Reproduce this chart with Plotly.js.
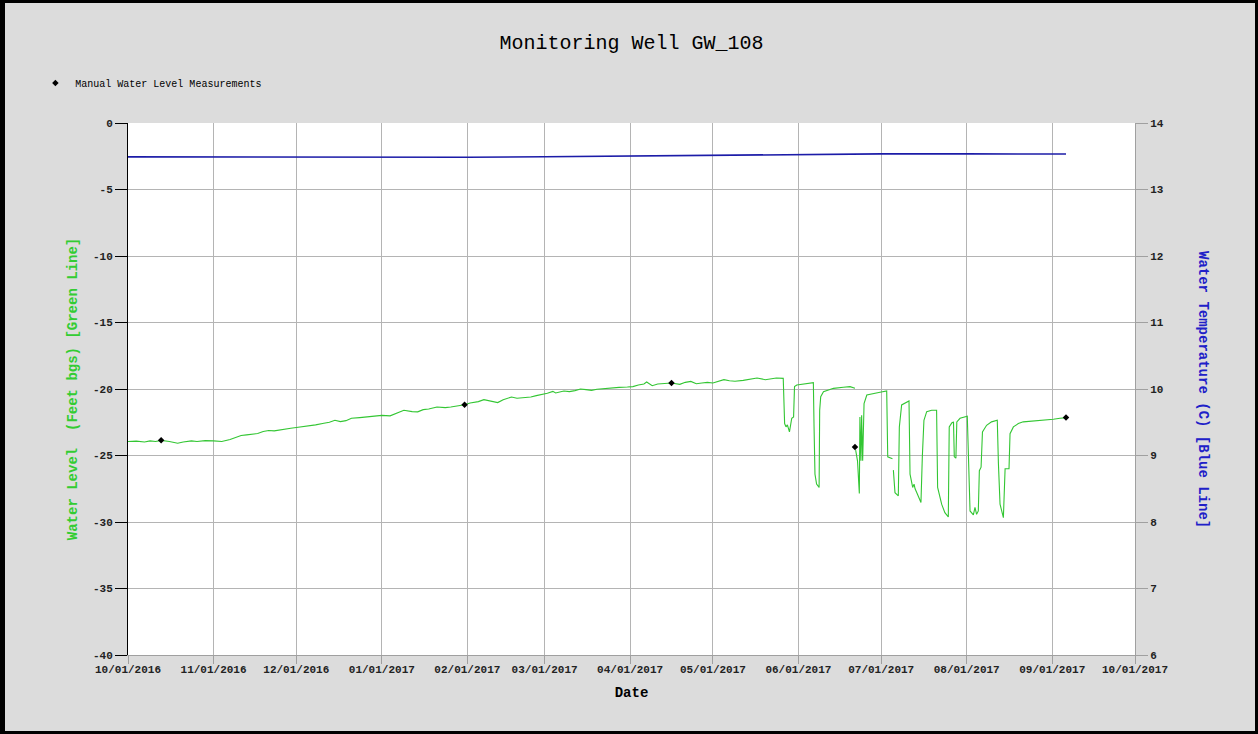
<!DOCTYPE html>
<html>
<head>
<meta charset="utf-8">
<script src="https://cdn.plot.ly/plotly-3.0.1.min.js"></script>
<style>
  html, body { margin: 0; padding: 0; background: #dcdcdc; }
  #wrap { position: relative; width: 1258px; height: 734px; }
  #chart { width: 1258px; height: 734px; }
  #frame { position: absolute; left: 0; top: 0; width: 1258px; height: 734px; box-sizing: border-box;
           border-style: solid; border-color: #000; border-width: 3px 3px 3px 5px; pointer-events: none; }
</style>
</head>
<body>
<div id="wrap"><div id="chart"></div><div id="frame"></div></div>
<script>
// ---- Water level (feet bgs), green line: gradual recovery Oct 2016 - May 2017 ----
const levelDatesA = [
  "2016-10-01","2016-10-04","2016-10-07","2016-10-09","2016-10-11","2016-10-13","2016-10-16","2016-10-18","2016-10-19","2016-10-21",
  "2016-10-24","2016-10-26","2016-10-29","2016-11-01","2016-11-04","2016-11-07","2016-11-09","2016-11-11","2016-11-13","2016-11-15",
  "2016-11-17","2016-11-19","2016-11-21","2016-11-23","2016-11-25","2016-11-27","2016-11-29","2016-12-01","2016-12-04","2016-12-06",
  "2016-12-08","2016-12-11","2016-12-13","2016-12-15","2016-12-17","2016-12-19","2016-12-21","2016-12-24","2016-12-26","2016-12-28",
  "2016-12-30","2017-01-01","2017-01-04","2017-01-07","2017-01-09","2017-01-12","2017-01-14","2017-01-16","2017-01-18","2017-01-21",
  "2017-01-24","2017-01-26","2017-01-28","2017-01-31","2017-02-02","2017-02-05","2017-02-07","2017-02-10","2017-02-12","2017-02-14",
  "2017-02-17","2017-02-19","2017-02-21","2017-02-24","2017-02-26","2017-02-28","2017-03-02","2017-03-04","2017-03-05","2017-03-08",
  "2017-03-10","2017-03-12","2017-03-14","2017-03-16","2017-03-18","2017-03-20","2017-03-23","2017-03-25","2017-03-28","2017-03-31",
  "2017-04-02","2017-04-04","2017-04-06","2017-04-07","2017-04-09","2017-04-11","2017-04-14","2017-04-16","2017-04-19","2017-04-21",
  "2017-04-23","2017-04-25","2017-04-27","2017-04-29","2017-05-01","2017-05-03","2017-05-05","2017-05-07","2017-05-09","2017-05-12",
  "2017-05-14","2017-05-17","2017-05-20","2017-05-22","2017-05-24"
];
const levelValuesA = [
  -23.95,-23.92,-23.98,-23.90,-23.95,-23.86,-23.95,-24.02,-24.08,-23.98,
  -23.90,-23.95,-23.88,-23.90,-23.95,-23.80,-23.65,-23.50,-23.45,-23.40,
  -23.35,-23.20,-23.12,-23.15,-23.08,-22.98,-22.95,-22.90,-22.82,-22.78,
  -22.70,-22.58,-22.50,-22.35,-22.45,-22.38,-22.20,-22.15,-22.10,-22.05,
  -22.00,-21.98,-22.02,-21.80,-21.60,-21.70,-21.72,-21.55,-21.50,-21.35,
  -21.40,-21.35,-21.30,-21.18,-21.05,-20.95,-20.80,-20.95,-21.02,-20.80,
  -20.60,-20.70,-20.68,-20.60,-20.50,-20.43,-20.32,-20.18,-20.30,-20.15,
  -20.20,-20.12,-20.00,-20.05,-20.10,-20.02,-19.95,-19.92,-19.88,-19.85,
  -19.82,-19.70,-19.62,-19.47,-19.75,-19.62,-19.55,-19.55,-19.65,-19.50,
  -19.43,-19.60,-19.55,-19.50,-19.55,-19.45,-19.30,-19.38,-19.42,-19.35,
  -19.30,-19.17,-19.30,-19.22,-19.17
];

// ---- Water level, green line: pumping cycles late May - Sep 2017 ----
const levelDatesB = [
  "2017-05-26 12:00","2017-05-26 18:00","2017-05-27 00:00","2017-05-27 12:00","2017-05-28 00:00","2017-05-28 18:00","2017-05-29 14:00","2017-05-30 06:00","2017-05-30 14:00","2017-05-31 10:00",
  "2017-06-02 20:00","2017-06-06 10:00","2017-06-06 16:00","2017-06-07 00:00","2017-06-07 14:00","2017-06-08 12:00","2017-06-08 17:00","2017-06-09 02:00","2017-06-10 02:00","2017-06-13 17:00",
  "2017-06-17 07:00","2017-06-19 17:00","2017-06-21 12:00","2017-06-21 15:00",
  "2017-06-21 18:00","2017-06-22 10:00","2017-06-23 02:00","2017-06-23 07:00","2017-06-23 16:00","2017-06-23 22:00","2017-06-24 07:00","2017-06-24 19:00","2017-06-25 19:00","2017-06-28 05:00",
  "2017-06-30 14:00","2017-07-03 00:00","2017-07-03 09:00","2017-07-05 02:00","2017-07-05 05:00","2017-07-05 10:00","2017-07-06 00:00","2017-07-07 05:00","2017-07-07 14:00","2017-07-08 10:00",
  "2017-07-09 14:00","2017-07-11 02:00","2017-07-11 11:00","2017-07-12 10:00","2017-07-12 22:00","2017-07-13 07:00","2017-07-13 22:00","2017-07-15 10:00","2017-07-15 22:00","2017-07-16 12:00",
  "2017-07-17 12:00","2017-07-19 07:00","2017-07-21 02:00","2017-07-21 11:00","2017-07-22 22:00","2017-07-24 02:00","2017-07-25 08:00","2017-07-25 16:00","2017-07-26 14:00","2017-07-27 05:00",
  "2017-07-27 12:00","2017-07-28 02:00","2017-07-28 10:00","2017-07-29 14:00","2017-08-01 05:00","2017-08-01 14:00","2017-08-02 05:00","2017-08-03 10:00","2017-08-04 00:00","2017-08-04 14:00",
  "2017-08-05 05:00","2017-08-05 14:00","2017-08-06 05:00","2017-08-06 17:00","2017-08-08 05:00","2017-08-10 00:00","2017-08-12 02:00","2017-08-12 12:00","2017-08-13 02:00","2017-08-14 07:00",
  "2017-08-14 22:00","2017-08-16 08:00","2017-08-16 17:00","2017-08-17 22:00","2017-08-19 17:00","2017-08-21 12:00","2017-08-25 02:00","2017-08-28 19:00","2017-09-01 10:00","2017-09-03 19:00",
  "2017-09-06 10:00"
];
const levelValuesB = [
  -19.20,-21.50,-22.60,-22.85,-22.70,-23.23,-22.20,-22.10,-19.82,-19.70,
  -19.62,-19.52,-22.85,-26.40,-27.15,-27.40,-21.60,-20.58,-20.20,-19.95,
  -19.87,-19.82,-19.95,null,
  -24.60,-25.40,-27.85,-22.10,-25.40,-21.97,-25.40,-21.10,-20.45,-20.33,
  -20.25,-20.15,-25.10,-25.25,null,-26.10,-27.80,-28.03,-22.85,-21.20,
  -21.04,-20.90,-26.40,-27.40,-27.15,-27.50,-27.80,-28.53,-25.10,-22.35,
  -21.70,-21.60,-21.60,-27.40,-28.66,-29.30,-29.62,-22.85,-22.55,-22.47,
  -25.10,-25.20,-22.47,-22.20,-22.05,-25.40,-29.17,-29.47,-28.90,-29.42,
  -29.17,-26.14,-25.88,-23.23,-22.73,-22.47,-22.35,-25.63,-28.66,-29.67,
  -26.00,-26.00,-23.36,-22.85,-22.60,-22.47,-22.42,-22.35,-22.27,-22.20,
  -22.15
];

// ---- Water temperature (C), blue line ----
const tempDates = ["2016-10-01","2016-11-01","2016-12-01","2017-01-01","2017-02-01","2017-03-01","2017-04-01","2017-05-01","2017-06-01","2017-07-01","2017-08-01","2017-09-01","2017-09-06"];
const tempValues = [13.490,13.490,13.485,13.480,13.485,13.492,13.505,13.515,13.525,13.535,13.535,13.533,13.533];

// ---- Manual water level measurements ----
const manualDates = ["2016-10-13","2017-01-31","2017-04-16","2017-06-21 12:00","2017-09-06"];
const manualValues = [-23.86,-21.18,-19.55,-24.37,-22.15];

// ---- Axis ticks ----
const xTickVals = ["2016-10-01","2016-11-01","2016-12-01","2017-01-01","2017-02-01","2017-03-01","2017-04-01","2017-05-01","2017-06-01","2017-07-01","2017-08-01","2017-09-01","2017-10-01"];
const xTickText = ["10/01/2016","11/01/2016","12/01/2016","01/01/2017","02/01/2017","03/01/2017","04/01/2017","05/01/2017","06/01/2017","07/01/2017","08/01/2017","09/01/2017","10/01/2017"];
const yTickVals = [0,-5,-10,-15,-20,-25,-30,-35,-40];
const yTickText = ["0","-5","-10","-15","-20","-25","-30","-35","-40"];
const y2TickVals = [6,7,8,9,10,11,12,13,14];
const y2TickText = ["6","7","8","9","10","11","12","13","14"];

const MONO = "Liberation Mono, Courier New, monospace";
const NBSP = "\u00a0";

const levelDates = levelDatesA.concat(levelDatesB);
const levelValues = levelValuesA.concat(levelValuesB);

const traces = [
  {
    x: levelDates, y: levelValues, type: "scatter", mode: "lines",
    line: {color: "#33c633", width: 1.1}, connectgaps: false, showlegend: false
  },
  {
    x: tempDates, y: tempValues, type: "scatter", mode: "lines", yaxis: "y2",
    line: {color: "#1c1ca8", width: 1.6}, showlegend: false
  },
  {
    x: manualDates, y: manualValues, type: "scatter", mode: "markers",
    name: "Manual Water Level Measurements",
    marker: {symbol: "diamond", size: 5, color: "#000"}
  }
];

const layout = {
  width: 1258, height: 734,
  paper_bgcolor: "#dcdcdc", plot_bgcolor: "#ffffff",
  margin: {l: 128, r: 123, t: 123, b: 79},
  font: {family: MONO, color: "#000"},
  title: {
    text: "Monitoring Well GW_108",
    font: {family: MONO, size: 20, color: "#000"},
    x: 0.5, xanchor: "center", y: 1 - 42 / 734, yanchor: "middle", xref: "paper"
  },
  showlegend: true,
  legend: {
    x: -0.092, xanchor: "left", y: 1.075, yanchor: "middle",
    bgcolor: "rgba(0,0,0,0)", font: {family: MONO, size: 10, color: "#000"},
    itemwidth: 30
  },
  xaxis: {
    type: "date", range: ["2016-10-01", "2017-10-01"],
    tickmode: "array", tickvals: xTickVals, ticktext: xTickText,
    tickfont: {family: MONO, size: 11, color: "#222", weight: "bold"},
    ticks: "outside", ticklen: 8, tickcolor: "#a0a0a0", ticklabelstandoff: -4,
    showgrid: true, gridcolor: "#b4b4b4", gridwidth: 1,
    showline: true, linecolor: "#a0a0a0", linewidth: 1,
    zeroline: false,
    title: {text: "Date", font: {family: MONO, size: 14, color: "#000", weight: "bold"}, standoff: 11}
  },
  yaxis: {
    range: [-40, 0],
    tickmode: "array", tickvals: yTickVals, ticktext: yTickText,
    tickfont: {family: MONO, size: 11, color: "#222", weight: "bold"},
    ticks: "outside", ticklen: 12, tickcolor: "#000",
    showgrid: true, gridcolor: "#b4b4b4", gridwidth: 1,
    showline: true, linecolor: "#000", linewidth: 1,
    zeroline: false,
    title: {text: "Water Level" + NBSP + NBSP + "(Feet bgs) [Green Line]", font: {family: MONO, size: 14, color: "#33cc33", weight: "bold"}, standoff: 12}
  },
  yaxis2: {
    range: [6, 14], overlaying: "y", side: "right",
    tickmode: "array", tickvals: y2TickVals, ticktext: y2TickText,
    tickfont: {family: MONO, size: 11, color: "#222", weight: "bold"},
    ticks: "outside", ticklen: 12, tickcolor: "#a0a0a0",
    showgrid: false, zeroline: false,
    showline: true, linecolor: "#a0a0a0", linewidth: 1
  },
  annotations: [
    {
      text: "Water Temperature (C) [Blue Line]",
      xref: "paper", yref: "paper", x: (1203 - 128) / 1007, y: 0.5,
      xanchor: "center", yanchor: "middle", textangle: 90, showarrow: false,
      font: {family: MONO, size: 14, color: "#2020c8", weight: "bold"}
    }
  ]
};

Plotly.newPlot("chart", traces, layout, {displayModeBar: false, staticPlot: true});
</script>
</body>
</html>
